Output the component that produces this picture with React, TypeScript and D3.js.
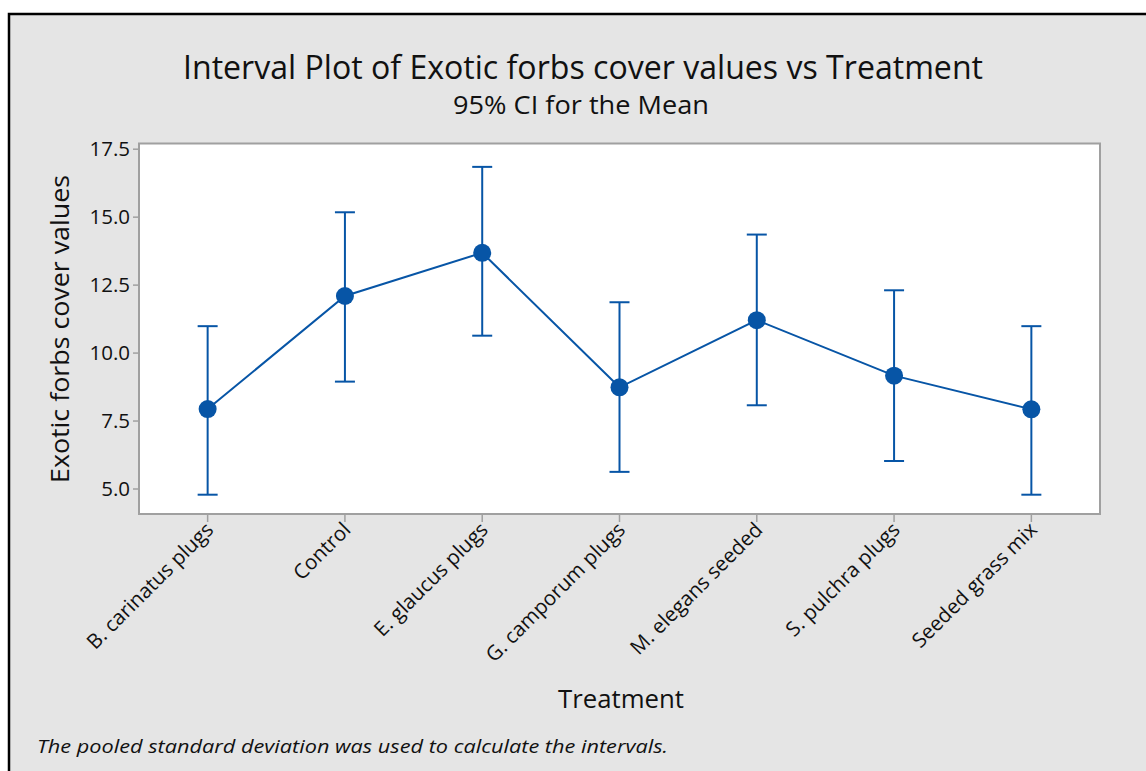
import React from "react";
import * as d3 from "d3";

const treatments = [
  "B. carinatus plugs",
  "Control",
  "E. glaucus plugs",
  "G. camporum plugs",
  "M. elegans seeded",
  "S. pulchra plugs",
  "Seeded grass mix",
];
const means = [7.94, 12.1, 13.69, 8.74, 11.21, 9.17, 7.93];
const lower = [4.79, 8.95, 10.64, 5.63, 8.08, 6.03, 4.79];
const upper = [10.99, 15.18, 16.85, 11.87, 14.36, 12.31, 10.99];
const yTicks = [5.0, 7.5, 10.0, 12.5, 15.0, 17.5];

const W = 1146;
const H = 771;
const plot = { left: 139, top: 143.5, right: 1100, bottom: 514 };
const blue = "#0755A6";
const font = "'Open Sans', 'DejaVu Sans', sans-serif";

export default function App() {
  const x = d3
    .scaleBand<string>()
    .domain(treatments)
    .range([plot.left, plot.right])
    .padding(0);
  const cx = (t: string) => (x(t) as number) + x.bandwidth() / 2;
  const y = d3.scaleLinear().domain([4.08, 17.71]).range([plot.bottom, plot.top]);

  const line = d3
    .line<number>()
    .x((_, i) => cx(treatments[i]))
    .y((d) => y(d));

  return (
    <svg
      width={W}
      height={H}
      style={{ position: "absolute", left: 0, top: 0, display: "block" }}
    >
      <rect x={0} y={0} width={W} height={H} fill="#ffffff" />
      <rect x={9} y={14} width={W + 20} height={H + 20} fill="#e5e5e5" stroke="#000" strokeWidth={2.5} />

      {/* titles */}
      <text x={583} y={79} textAnchor="middle" fontFamily={font} fontSize={32} fill="#111" textLength={800} lengthAdjust="spacingAndGlyphs">
        Interval Plot of Exotic forbs cover values vs Treatment
      </text>
      <text x={581} y={114} textAnchor="middle" fontFamily={font} fontSize={25} fill="#111" textLength={256} lengthAdjust="spacingAndGlyphs">
        95% CI for the Mean
      </text>

      {/* plot area */}
      <rect
        x={plot.left}
        y={plot.top}
        width={plot.right - plot.left}
        height={plot.bottom - plot.top}
        fill="#fff"
        stroke="#a0a0a0"
        strokeWidth={2}
      />

      {/* y axis */}
      {yTicks.map((t) => (
        <g key={t}>
          <line x1={plot.left - 6} x2={plot.left} y1={y(t)} y2={y(t)} stroke="#a0a0a0" strokeWidth={1.5} />
          <text x={plot.left - 9} y={y(t)} dy="0.35em" textAnchor="end" fontFamily={font} fontSize={20.5} fill="#111">
            {t.toFixed(1)}
          </text>
        </g>
      ))}
      <text
        transform={`translate(69,${329}) rotate(-90)`}
        textAnchor="middle"
        fontFamily={font}
        fontSize={25}
        fill="#111"
        textLength={308}
        lengthAdjust="spacingAndGlyphs"
      >
        Exotic forbs cover values
      </text>

      {/* x axis */}
      {treatments.map((t) => (
        <g key={t}>
          <line x1={cx(t)} x2={cx(t)} y1={plot.bottom} y2={plot.bottom + 8} stroke="#a0a0a0" strokeWidth={1.5} />
          <text
            transform={`translate(${cx(t) + 7},${plot.bottom + 17}) rotate(-45)`}
            textAnchor="end"
            fontFamily={font}
            fontSize={20.5}
            fill="#111"
          >
            {t}
          </text>
        </g>
      ))}
      <text x={621} y={708} textAnchor="middle" fontFamily={font} fontSize={25} fill="#111" textLength={126} lengthAdjust="spacingAndGlyphs">
        Treatment
      </text>

      {/* connecting line through means */}
      <path d={line(means) ?? ""} fill="none" stroke={blue} strokeWidth={2} />

      {/* intervals */}
      {treatments.map((t, i) => {
        const c = cx(t);
        return (
          <g key={t} stroke={blue} strokeWidth={2}>
            <line x1={c} x2={c} y1={y(upper[i])} y2={y(lower[i])} />
            <line x1={c - 10} x2={c + 10} y1={y(upper[i])} y2={y(upper[i])} />
            <line x1={c - 10} x2={c + 10} y1={y(lower[i])} y2={y(lower[i])} />
          </g>
        );
      })}
      {treatments.map((t, i) => (
        <circle key={t} cx={cx(t)} cy={y(means[i])} r={9} fill={blue} />
      ))}

      <text x={37} y={753} fontFamily={font} fontStyle="italic" fontSize={19} fill="#111" textLength={631} lengthAdjust="spacingAndGlyphs">
        The pooled standard deviation was used to calculate the intervals.
      </text>
    </svg>
  );
}
